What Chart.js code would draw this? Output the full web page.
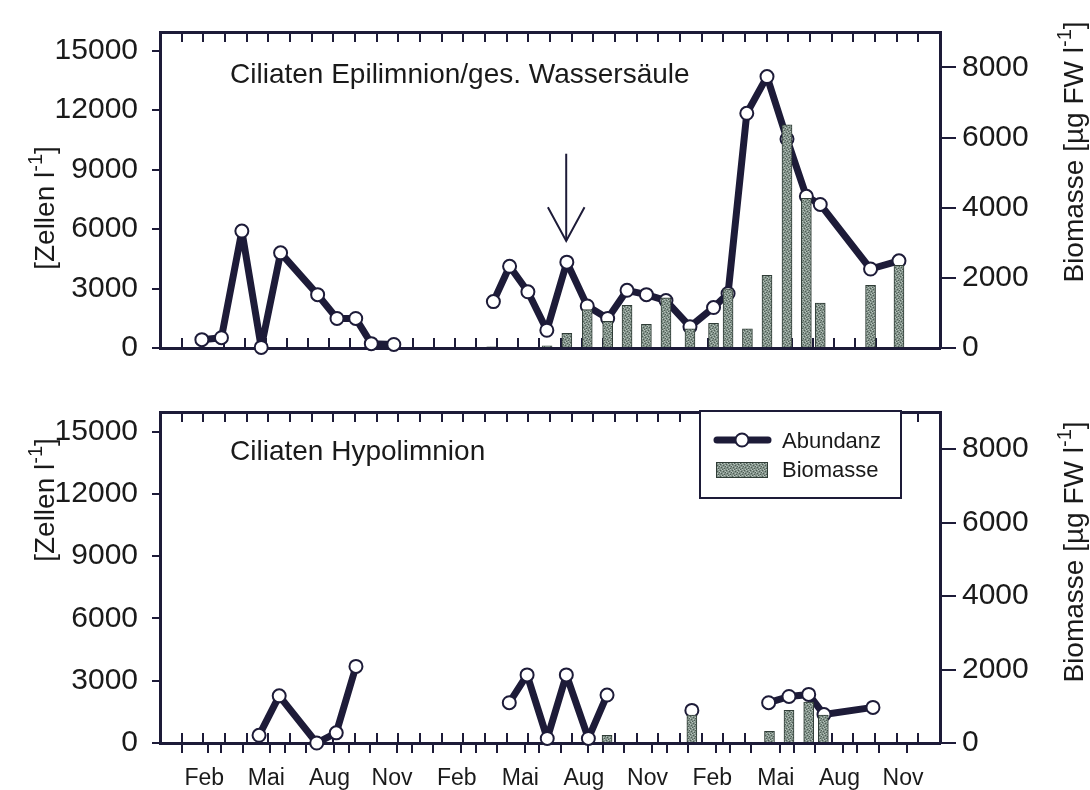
<!DOCTYPE html>
<html><head><meta charset="utf-8">
<script src="https://cdn.jsdelivr.net/npm/chart.js@4.4.1/dist/chart.umd.min.js"></script>
<style>
html,body{margin:0;padding:0;background:#fff;}
#wrap{position:relative;width:1090px;height:790px;overflow:hidden;}
canvas{position:absolute;left:0;}
#c1{top:0;} #c2{top:380px;}
</style></head><body>
<div id="wrap"><canvas id="c1" width="1090" height="380"></canvas><canvas id="c2" width="1090" height="410"></canvas></div>
<script>
// ---------------- data ----------------
const monthLabels = ['Feb','Mai','Aug','Nov','Feb','Mai','Aug','Nov','Feb','Mai','Aug','Nov'];
const monthLabelPos = [1.7,4.62,7.6,10.55,13.6,16.6,19.6,22.6,25.65,28.65,31.65,34.65];
const monthTicks = [1,2,3,4,5,6,7,8,9,10,11,12,13,14,15,16,17,18,19,20,21,22,23,24,25,26,27,28,29,30,31,32,33,34,35];
const cellTicks = [0,3000,6000,9000,12000,15000];
const bioTicks = [0,2000,4000,6000,8000];

// Epilimnion / ges. Wassersaeule
const epiAbundMonths = [1.46,2.39,3.36,4.28,5.20,6.96,7.88,8.77,9.51,10.58,12.9,15.31,16.08,16.95,17.85,18.80,19.77,20.74,21.66,22.58,23.51,24.65,25.77,26.46,27.35,28.31,29.26,30.18,30.84,33.23,34.58];
const epiAbundValues = [420,520,5900,30,4800,2690,1490,1490,220,180,null,2340,4120,2835,895,4330,2120,1490,2910,2690,2390,1075,2040,2750,11840,13690,10540,7650,7240,3985,4400];
const epiBioMonths = [15.23,17.86,18.80,19.77,20.74,21.66,22.58,23.51,24.65,25.77,26.46,27.38,28.31,29.26,30.18,30.84,33.23,34.58];
const epiBioValues = [30,60,420,1095,760,1220,675,1430,547,700,1685,547,2070,6360,4270,1280,1785,2360];

// Hypolimnion
const hypoAbundMonths = [4.28,5.23,7.0,7.92,8.85,12.5,16.08,16.92,17.87,18.77,19.81,20.69,22.5,24.69,26.5,28.31,29.27,30.2,30.92,33.23];
const hypoAbundValues = [370,2270,0,490,3690,null,1940,3280,220,3280,220,2310,null,1570,null,1940,2240,2340,1370,1715];
const hypoBioMonths = [20.69,24.69,28.35,29.27,30.2,30.89];
const hypoBioValues = [210,760,320,886,1114,760];

// arrow annotation (data units)
const arrowMonth = 18.77, arrowFrom = 9800, arrowTo = 5400, arrowHeadAt = 7100, arrowHalf = 0.87;

// ---------------- styles ----------------
const DARK = '#1d1b38';
const TEXT = '#1a1a1a';
const FONT = '"Liberation Sans", Arial, Helvetica, sans-serif';
Chart.defaults.font.family = FONT;
Chart.defaults.color = TEXT;

function pts(xs, ys){ return xs.map((x,i)=>({x:x, y:ys[i]})); }

function makePattern(){
  const c=document.createElement('canvas'); c.width=6; c.height=6;
  const g=c.getContext('2d'); g.fillStyle='#83938a'; g.fillRect(0,0,6,6);
  g.fillStyle='#4e5c55';
  [[0,0],[3,1],[1,3],[4,4],[5,2],[2,5]].forEach(p=>g.fillRect(p[0],p[1],1,1));
  g.fillStyle='#b6c3bc';
  [[2,0],[5,1],[0,2],[3,3],[1,5],[4,5]].forEach(p=>g.fillRect(p[0],p[1],1,1));
  return g.createPattern(c,'repeat');
}
const barFill = makePattern();

function datasets(am, av, bm, bv){
  return [
    {type:'bar', label:'Biomasse', data:pts(bm,bv), yAxisID:'y1', xAxisID:'x',
     backgroundColor:barFill, borderColor:'#2f3c36', borderWidth:1, barThickness:10, order:0},
    {type:'line', label:'Abundanz', data:pts(am,av), yAxisID:'y', xAxisID:'x',
     borderColor:DARK, borderWidth:7, borderJoinStyle:'round', borderCapStyle:'round',
     tension:0, spanGaps:false, clip:false,
     pointRadius:6.5, pointBorderWidth:2, pointBackgroundColor:'#ffffff', pointBorderColor:DARK, order:1}
  ];
}

function xAxis(pos, tl, height, weight, labels){
  return {
    type:'linear', position:pos, min:0, max:36, weight:weight,
    afterBuildTicks: s => { const v = labels ? monthTicks.concat(monthLabelPos) : monthTicks.slice(); s.ticks = v.sort((a,b)=>a-b).map(t=>({value:t})); },
    ticks: labels ? {display:true, autoSkip:false, maxRotation:0, minRotation:0, padding:12,
       font:{size:23}, color:TEXT,
       callback: v => { const i = monthLabelPos.indexOf(v); return i>=0 ? monthLabels[i] : ''; }} : {display:false},
    grid:{drawOnChartArea:false, drawTicks:true, tickLength:tl, lineWidth:2,
       color: c => (c.tick && Number.isInteger(c.tick.value)) ? DARK : 'rgba(0,0,0,0)'},
    border:{display:true, color:DARK, width:3},
    afterFit: s => { s.height = height; }
  };
}
function yAxes(){
  return {
    y:{position:'left', min:0, max:15940,
       afterBuildTicks: s => { s.ticks = cellTicks.map(v=>({value:v})); },
       ticks:{font:{size:30}, color:TEXT, padding:14, callback: v => String(v)},
       grid:{drawOnChartArea:false, tickLength:8, lineWidth:2, color:DARK},
       border:{display:true, color:DARK, width:3},
       afterFit: s => { s.width = 160; }},
    y1:{position:'right', min:0, max:9010,
       afterBuildTicks: s => { s.ticks = bioTicks.map(v=>({value:v})); },
       ticks:{font:{size:30}, color:TEXT, padding:6, callback: v => String(v)},
       grid:{drawOnChartArea:false, tickLength:16, lineWidth:2, color:DARK},
       border:{display:true, color:DARK, width:3},
       afterFit: s => { s.width = 150; }}
  };
}

function drawRotated(ctx, cx, cy, parts, size){
  ctx.save(); ctx.translate(cx,cy); ctx.rotate(-Math.PI/2);
  ctx.fillStyle=TEXT; ctx.textBaseline='alphabetic';
  let total=0;
  const ws=parts.map(p=>{ ctx.font=(p.sup?Math.round(size*0.7):size)+'px '+FONT; const w=ctx.measureText(p.t).width; total+=w; return w; });
  let x=-total/2; const base=size*0.36;
  parts.forEach((p,i)=>{ ctx.font=(p.sup?Math.round(size*0.7):size)+'px '+FONT; ctx.fillText(p.t, x, p.sup? base-size*0.42 : base); x+=ws[i]; });
  ctx.restore();
}
const leftTitle = [{t:'[Zellen l'},{t:'-1',sup:true},{t:']'}];
const rightTitle = [{t:'Biomasse [µg FW l'},{t:'-1',sup:true},{t:']'}];

function textPlugin(id, title, titleBase, leftCy, rightCy){
  return {id:id, afterDraw(chart){
    const ctx=chart.ctx; ctx.save();
    ctx.fillStyle=TEXT; ctx.font='28px '+FONT; ctx.textBaseline='alphabetic'; ctx.textAlign='left';
    ctx.fillText(title, 230, titleBase);
    drawRotated(ctx, 44, leftCy, leftTitle, 28);
    drawRotated(ctx, 1073, rightCy, rightTitle, 28);
    ctx.restore();
  }};
}

const arrowPlugin = {id:'arrow', afterDatasetsDraw(chart){
  const xs=chart.scales.x, ys=chart.scales.y, ctx=chart.ctx;
  const x=xs.getPixelForValue(arrowMonth), y0=ys.getPixelForValue(arrowFrom), y1=ys.getPixelForValue(arrowTo), yh=ys.getPixelForValue(arrowHeadAt);
  const xl=xs.getPixelForValue(arrowMonth-arrowHalf), xr=xs.getPixelForValue(arrowMonth+arrowHalf);
  ctx.save(); ctx.strokeStyle=DARK; ctx.lineWidth=2;
  ctx.beginPath(); ctx.moveTo(x,y0); ctx.lineTo(x,y1); ctx.stroke();
  ctx.beginPath(); ctx.moveTo(xl,yh); ctx.lineTo(x,y1); ctx.lineTo(xr,yh); ctx.stroke();
  ctx.restore();
}};

const legendPlugin = {id:'legendBox', afterDraw(chart){
  const ctx=chart.ctx; const dsLine=chart.data.datasets[1], dsBar=chart.data.datasets[0];
  ctx.save();
  ctx.fillStyle='#fff'; ctx.fillRect(700,31,201,87);
  ctx.strokeStyle=DARK; ctx.lineWidth=2; ctx.strokeRect(700,31,201,87);
  ctx.strokeStyle=dsLine.borderColor; ctx.lineWidth=7; ctx.lineCap='round';
  ctx.beginPath(); ctx.moveTo(717,60); ctx.lineTo(768,60); ctx.stroke();
  ctx.fillStyle='#fff'; ctx.lineWidth=2; ctx.beginPath(); ctx.arc(742,60,6.5,0,Math.PI*2); ctx.fill(); ctx.stroke();
  ctx.fillStyle=dsBar.backgroundColor; ctx.fillRect(716,82,52,16);
  ctx.strokeStyle=dsBar.borderColor; ctx.lineWidth=1; ctx.strokeRect(716.5,82.5,51,15);
  ctx.fillStyle=TEXT; ctx.font='22px '+FONT; ctx.textBaseline='alphabetic';
  ctx.fillText(dsLine.label, 782, 68);
  ctx.fillText(dsBar.label, 782, 97);
  ctx.restore();
}};

const common = {responsive:false, animation:false, events:[],
  plugins:{legend:{display:false}, tooltip:{enabled:false}}};

new Chart(document.getElementById('c1'), {
  data:{datasets:datasets(epiAbundMonths, epiAbundValues, epiBioMonths, epiBioValues)},
  options:Object.assign({}, common, {
    layout:{padding:{top:12,left:0,right:0,bottom:0}},
    scales:Object.assign({x:xAxis('bottom',-10,12,0,false), xTop:xAxis('top',-10,0,0,false)}, yAxes())
  }),
  plugins:[arrowPlugin, textPlugin('t1','Ciliaten Epilimnion/ges. Wassersäule',83,208,152)]
});

new Chart(document.getElementById('c2'), {
  data:{datasets:datasets(hypoAbundMonths, hypoAbundValues, hypoBioMonths, hypoBioValues)},
  options:Object.assign({}, common, {
    layout:{padding:{top:7,left:0,right:0,bottom:0}},
    scales:Object.assign({xIn:xAxis('bottom',-10,0,0,false), x:xAxis('bottom',10,47,1,true), xTop:xAxis('top',-10,0,0,false)}, yAxes())
  }),
  plugins:[legendPlugin, textPlugin('t2','Ciliaten Hypolimnion',80,120,172)]
});
</script>
</body></html>
